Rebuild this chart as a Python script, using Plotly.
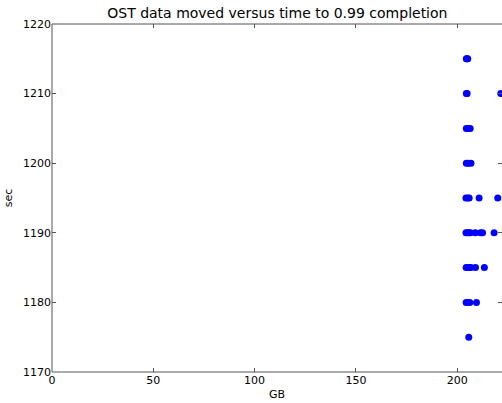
import plotly.graph_objects as go

# x values (GB) grouped by time (sec)
sec_1215 = [204.5, 204.8, 205.2]
sec_1210 = [204.5, 204.9, 221.5]
sec_1205 = [204.5, 205.3, 206.4]
sec_1200 = [204.5, 205.5, 206.8]
sec_1195 = [204.3, 205.2, 205.9, 210.8, 220.0]
sec_1190 = [204.3, 205.0, 205.8, 206.5, 208.9, 211.5, 212.5, 218.2]
sec_1185 = [204.4, 205.2, 206.0, 206.7, 209.0, 213.4]
sec_1180 = [204.4, 205.2, 206.2, 209.5]
sec_1175 = [205.7]

groups = {
    1215: sec_1215, 1210: sec_1210, 1205: sec_1205, 1200: sec_1200,
    1195: sec_1195, 1190: sec_1190, 1185: sec_1185, 1180: sec_1180,
    1175: sec_1175,
}

gb = []
sec = []
for t, xs in groups.items():
    for x in xs:
        gb.append(x)
        sec.append(t)

x_ticks = [0, 50, 100, 150, 200]
y_ticks = [1170, 1180, 1190, 1200, 1210, 1220]

FONT = "DejaVu Sans"
AX = "#555555"

fig = go.Figure()
fig.add_trace(go.Scatter(
    x=gb, y=sec, mode="markers",
    marker=dict(color="#0000ff", size=7, line=dict(width=0)),
    showlegend=False,
))

axis_common = dict(
    showgrid=False, zeroline=False, showline=False,
    ticks="inside", ticklen=4, tickwidth=1, tickcolor=AX,
    mirror="ticks",
    tickfont=dict(family=FONT, size=11, color="#000000"),
)

fig.update_xaxes(
    range=[0, 222.1], tickvals=x_ticks, ticktext=[str(v) for v in x_ticks],
    title=dict(text="GB", font=dict(family=FONT, size=11, color="#000"), standoff=4),
    **axis_common,
)
fig.update_yaxes(
    range=[1170, 1220], tickvals=y_ticks, ticktext=[str(v) for v in y_ticks],
    title=dict(text="sec", font=dict(family=FONT, size=11, color="#000"), standoff=8),
    **axis_common,
)

# spines: left, bottom, top (right spine falls outside the visible page)
for x0, y0, x1, y1 in [(0, 0, 0, 1), (0, 0, 1, 0), (0, 1, 1, 1)]:
    fig.add_shape(type="line", xref="paper", yref="paper",
                  x0=x0, y0=y0, x1=x1, y1=y1,
                  line=dict(color=AX, width=1))

fig.update_layout(
    width=502, height=403,
    margin=dict(l=52, r=0, t=24, b=31),
    paper_bgcolor="white", plot_bgcolor="white",
    title=dict(text="OST data moved versus time to 0.99 completion",
               x=0.5525, xanchor="center", y=0.968, yanchor="middle",
               font=dict(family=FONT, size=14, color="#000")),
)

fig.write_html("out.html")
